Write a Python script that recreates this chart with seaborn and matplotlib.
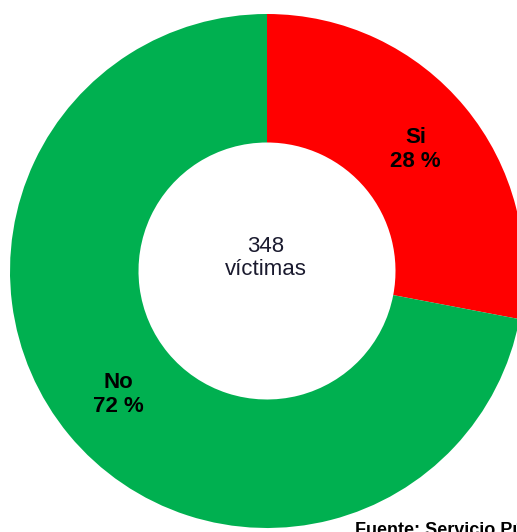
import matplotlib
matplotlib.use("Agg")
import matplotlib.pyplot as plt
import numpy as np
import seaborn as sns

# Data
categories = ["Si", "No"]
percentages = [28, 72]
total_victims = 348
colors = ["#FF0000", "#00B050"]
source_text = "Fuente: Servicio Público de Empleo"

sns.set_theme(style="white")
plt.rcParams["font.family"] = ["Liberation Sans", "DejaVu Sans"]

W, H = 517, 532
fig = plt.figure(figsize=(W / 100, H / 100), dpi=100)
ax = fig.add_axes([0, 0, 1, 1])

R = 257
cx, cy = 267, 271
wedges, _ = ax.pie(
    percentages,
    colors=colors,
    startangle=90,
    counterclock=False,
    radius=R,
    center=(0, 0),
    wedgeprops=dict(width=R * 0.5, edgecolor="none", linewidth=0),
)

# Category labels in the middle of the ring
for w, cat, pct in zip(wedges, categories, percentages):
    mid = np.deg2rad((w.theta1 + w.theta2) / 2)
    r = R * 0.75
    ax.text(r * np.cos(mid), r * np.sin(mid) - 1, f"{cat}\n{pct} %",
            ha="center", va="center", fontsize=16, fontweight="bold",
            color="black", linespacing=1.2)

# Total in the hole
ax.text(-1.5, 13, f"{total_victims}\nvíctimas", ha="center", va="center",
        fontsize=16, color="#1a1a2e", linespacing=1.15)

ax.set_xlim(-cx, W - cx)
ax.set_ylim(-(H - cy), cy)
ax.set_aspect("equal")
ax.axis("off")

fig.text(355 / W, 1 - 522 / H, source_text, ha="left", va="top",
         fontsize=13, fontweight="bold", color="black")

fig.savefig("out.png", dpi=100, facecolor="white")
